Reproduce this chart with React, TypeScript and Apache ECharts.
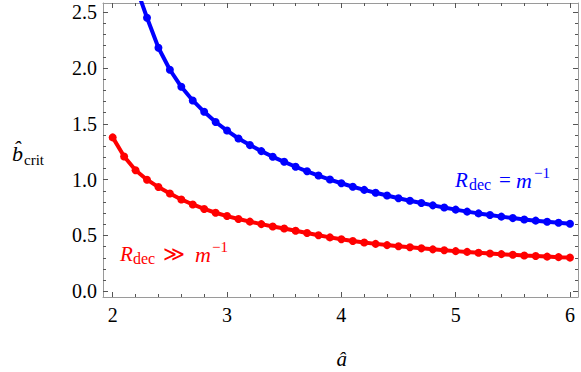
import React, { useEffect, useRef } from "react";
import * as echarts from "echarts";

const aRed = [2.0, 2.1, 2.2, 2.3, 2.4, 2.5, 2.6, 2.7, 2.8, 2.9, 3.0, 3.1, 3.2, 3.3, 3.4, 3.5, 3.6, 3.7, 3.8, 3.9, 4.0, 4.1, 4.2, 4.3, 4.4, 4.5, 4.6, 4.7, 4.8, 4.9, 5.0, 5.1, 5.2, 5.3, 5.4, 5.5, 5.6, 5.7, 5.8, 5.9, 6.0];
const bRed = [1.379, 1.208, 1.085, 1.0, 0.934, 0.877, 0.823, 0.778, 0.738, 0.704, 0.674, 0.648, 0.624, 0.602, 0.581, 0.562, 0.543, 0.522, 0.502, 0.483, 0.466, 0.451, 0.437, 0.425, 0.414, 0.404, 0.394, 0.385, 0.376, 0.368, 0.36, 0.353, 0.346, 0.339, 0.333, 0.327, 0.321, 0.316, 0.311, 0.306, 0.302];

const aBlue = [2.2, 2.3, 2.4, 2.5, 2.6, 2.7, 2.8, 2.9, 3.0, 3.1, 3.2, 3.3, 3.4, 3.5, 3.6, 3.7, 3.8, 3.9, 4.0, 4.1, 4.2, 4.3, 4.4, 4.5, 4.6, 4.7, 4.8, 4.9, 5.0, 5.1, 5.2, 5.3, 5.4, 5.5, 5.6, 5.7, 5.8, 5.9, 6.0];
const bBlue = [2.74, 2.451, 2.182, 1.985, 1.832, 1.71, 1.608, 1.517, 1.44, 1.369, 1.31, 1.256, 1.205, 1.16, 1.116, 1.075, 1.037, 1.001, 0.968, 0.937, 0.909, 0.883, 0.858, 0.834, 0.812, 0.791, 0.77, 0.751, 0.732, 0.714, 0.698, 0.683, 0.669, 0.656, 0.644, 0.633, 0.623, 0.614, 0.606];

const xMajorTicks = [2, 3, 4, 5, 6];
const xMinorTicks = [2.2, 2.4, 2.6, 2.8, 3.2, 3.4, 3.6, 3.8, 4.2, 4.4, 4.6, 4.8, 5.2, 5.4, 5.6, 5.8];
const yMajorTicks = [0, 0.5, 1.0, 1.5, 2.0, 2.5];
const yMinorTicks = [0.1, 0.2, 0.3, 0.4, 0.6, 0.7, 0.8, 0.9, 1.1, 1.2, 1.3, 1.4, 1.6, 1.7, 1.8, 1.9, 2.1, 2.2, 2.3, 2.4];

const X_MIN = 1.915;
const X_MAX = 6.07;
const Y_MIN = -0.051;
const Y_MAX = 2.583;

const SERIF = "Liberation Serif";
const FRAME = "#9a9a9a";
const TICK = "#555555";

function txt(text: string, x: number, y: number, size: number, color: string, italic: boolean, align = "left") {
  return {
    type: "text",
    x,
    y,
    silent: true,
    style: {
      text,
      fill: color,
      fontSize: size,
      fontFamily: SERIF,
      fontStyle: italic ? "italic" : "normal",
      align,
      verticalAlign: "middle",
    },
  };
}

function xAxisDef(position: string, ticks: number[], len: number, showLine: boolean, showLabel: boolean) {
  return {
    type: "value",
    position,
    min: X_MIN,
    max: X_MAX,
    axisLine: { show: showLine, onZero: false, lineStyle: { color: FRAME, width: 1 } },
    axisTick: { show: true, inside: true, length: len, customValues: ticks, lineStyle: { color: TICK, width: 1 } },
    axisLabel: {
      show: showLabel,
      customValues: ticks,
      margin: 8,
      fontSize: 20,
      fontFamily: SERIF,
      color: "#000",
      formatter: (v: number) => String(Math.round(v)),
    },
    splitLine: { show: false },
    minorTick: { show: false },
  };
}

function yAxisDef(position: string, ticks: number[], len: number, showLine: boolean, showLabel: boolean) {
  return {
    type: "value",
    position,
    min: Y_MIN,
    max: Y_MAX,
    axisLine: { show: showLine, onZero: false, lineStyle: { color: FRAME, width: 1 } },
    axisTick: { show: true, inside: true, length: len, customValues: ticks, lineStyle: { color: TICK, width: 1 } },
    axisLabel: {
      show: showLabel,
      customValues: ticks,
      margin: 6,
      fontSize: 20,
      fontFamily: SERIF,
      color: "#000",
      formatter: (v: number) => v.toFixed(1),
    },
    splitLine: { show: false },
    minorTick: { show: false },
  };
}

export default function App() {
  const ref = useRef<HTMLDivElement>(null);
  useEffect(() => {
    if (!ref.current) return;
    const chart = echarts.init(ref.current, null, { renderer: "svg" });
    const redData = aRed.map((a, i) => [a, bRed[i]]);
    const blueData = aBlue.map((a, i) => [a, bBlue[i]]);
    const blue = "#0000ff";
    const red = "#ff0000";
    chart.setOption({
      animation: false,
      backgroundColor: "#ffffff",
      grid: { left: 103, right: 3, top: 3, bottom: 75, containLabel: false },
      xAxis: [
        xAxisDef("bottom", xMajorTicks, 5, true, true),
        xAxisDef("bottom", xMinorTicks, 3, false, false),
        xAxisDef("top", xMajorTicks, 5, true, false),
        xAxisDef("top", xMinorTicks, 3, false, false),
      ],
      yAxis: [
        yAxisDef("left", yMajorTicks, 5, true, true),
        yAxisDef("left", yMinorTicks, 3, false, false),
        yAxisDef("right", yMajorTicks, 5, true, false),
        yAxisDef("right", yMinorTicks, 3, false, false),
      ],
      series: [
        {
          type: "line",
          xAxisIndex: 0,
          yAxisIndex: 0,
          data: blueData,
          clip: true,
          symbol: "circle",
          symbolSize: 8,
          showSymbol: true,
          lineStyle: { color: blue, width: 4 },
          itemStyle: { color: blue },
          emphasis: { disabled: true },
        },
        {
          type: "line",
          xAxisIndex: 0,
          yAxisIndex: 0,
          data: redData,
          clip: true,
          symbol: "circle",
          symbolSize: 8,
          showSymbol: true,
          lineStyle: { color: red, width: 4 },
          itemStyle: { color: red },
          emphasis: { disabled: true },
        },
      ],
      graphic: [
        // y-axis title
        txt("b\u0302", 12, 153, 22, "#000", true),
        txt("crit", 24, 160, 15, "#000", false),
        // x-axis title
        txt("\u00e2", 341.7, 359, 21, "#000", true, "center"),
        // blue label
        txt("R", 455, 180, 21, blue, true),
        txt("dec", 469, 184.5, 16, blue, false),
        txt("=", 499, 180, 21, blue, false),
        txt("m", 516, 180, 22, blue, true),
        txt("\u22121", 534, 173, 15, blue, false),
        // red label
        txt("R", 120, 254, 21, red, true),
        txt("dec", 133, 258.5, 16, red, false),
        txt("\u226b", 163, 254, 21, red, false),
        txt("m", 195, 254, 22, red, true),
        txt("\u22121", 212, 247, 15, red, false),
      ],
    });
    return () => chart.dispose();
  }, []);
  return (
    <div
      ref={ref}
      style={{ position: "fixed", left: 0, top: 0, width: 581, height: 372, background: "#fff" }}
    />
  );
}
